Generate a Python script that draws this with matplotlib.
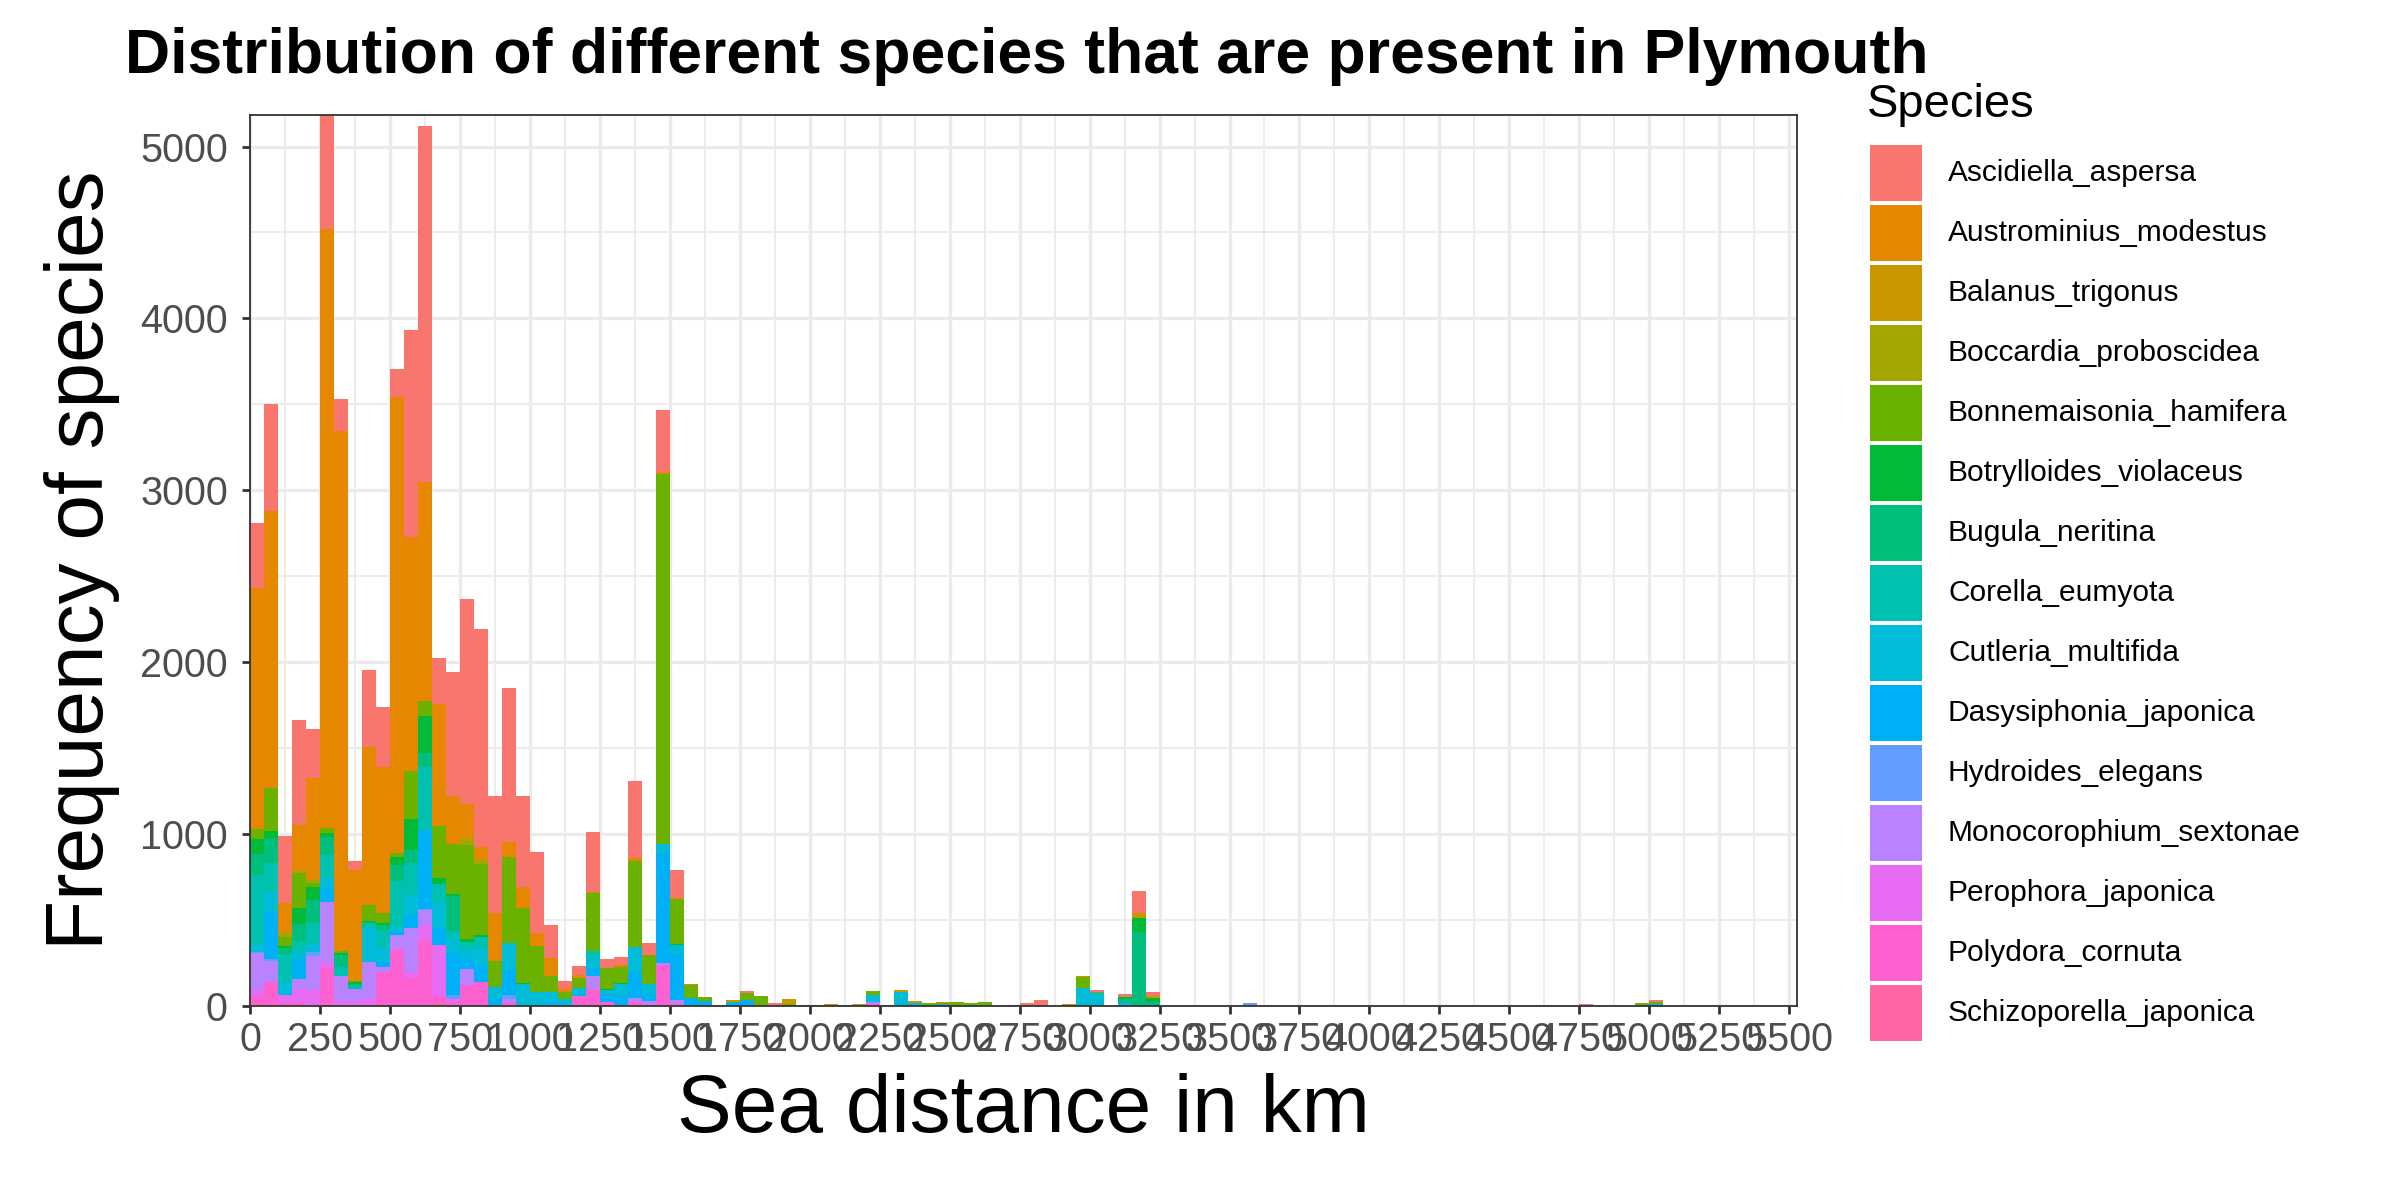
import numpy as np
import matplotlib
matplotlib.use("Agg")
import matplotlib.pyplot as plt
from matplotlib.patches import Rectangle

plt.rcParams['font.family'] = ['Liberation Sans', 'DejaVu Sans']

species = [
    "Ascidiella_aspersa", "Austrominius_modestus", "Balanus_trigonus",
    "Boccardia_proboscidea", "Bonnemaisonia_hamifera", "Botrylloides_violaceus",
    "Bugula_neritina", "Corella_eumyota", "Cutleria_multifida",
    "Dasysiphonia_japonica", "Hydroides_elegans", "Monocorophium_sextonae",
    "Perophora_japonica", "Polydora_cornuta", "Schizoporella_japonica",
]
colors = ["#F8766D", "#E58700", "#C99800", "#A3A500", "#6BB100", "#00BA38",
          "#00BF7D", "#00C0AF", "#00BCD8", "#00B0F6", "#619CFF", "#B983FF",
          "#E76BF3", "#FD61D1", "#FF67A4"]

# left edges of the 50 km histogram bins that hold data
bin_starts = list(range(0, 3250, 50)) + [3550, 4750, 4950, 5000]
binwidth = 50

# counts per species (same order as bin_starts): bins 0..3200 then 3550, 4750, 4950, 5000
Ascidiella_aspersa = [380, 623, 390, 613, 286, 666, 185, 53, 449, 346, 164, 1203, 2072, 264, 726, 1193,
                      1267, 684, 898, 533, 469, 192, 52, 50, 346, 51, 48, 450, 72, 360, 162, 0,
                      0, 0, 0, 12, 0, 8, 0, 0, 0, 0, 0, 0, 0, 0, 0, 0,
                      0, 0, 0, 0, 0, 0, 0, 12, 25, 0, 0, 0, 10, 0, 14, 128, 23,
                      0, 8, 0, 12]
Austrominius_modestus = [1400, 1614, 180, 270, 592, 3484, 3026, 641, 921, 853, 2656, 1362, 1274, 712, 275, 203,
                         80, 279, 88, 118, 76, 105, 12, 18, 0, 0, 10, 19, 0, 15, 6, 6,
                         0, 0, 0, 0, 0, 0, 0, 0, 0, 0, 0, 0, 0, 0, 0, 0,
                         0, 6, 0, 0, 0, 0, 0, 4, 0, 0, 0, 0, 0, 0, 0, 0, 0,
                         0, 0, 0, 0]
Balanus_trigonus = [0, 0, 0, 0, 0, 0, 0, 0, 0, 0, 0, 0, 0, 0, 0, 0,
                    0, 0, 0, 0, 0, 0, 0, 0, 8, 0, 0, 0, 0, 0, 0, 0,
                    0, 0, 8, 0, 0, 0, 30, 0, 0, 12, 0, 8, 0, 0, 12, 10,
                    0, 0, 0, 0, 0, 0, 0, 0, 6, 0, 8, 8, 0, 0, 0, 29, 12,
                    0, 0, 0, 0]
Boccardia_proboscidea = [0, 0, 20, 10, 20, 0, 0, 0, 0, 0, 0, 0, 0, 0, 0, 36,
                         19, 0, 0, 0, 0, 0, 0, 0, 0, 0, 0, 0, 0, 0, 0, 0,
                         0, 0, 0, 0, 0, 0, 0, 0, 0, 0, 0, 0, 0, 0, 0, 0,
                         0, 0, 0, 0, 0, 0, 0, 0, 0, 0, 0, 0, 0, 0, 0, 0, 0,
                         0, 0, 0, 0]
Bonnemaisonia_hamifera = [60, 250, 55, 205, 20, 29, 10, 8, 90, 59, 20, 283, 86, 303, 293, 550,
                          415, 151, 498, 437, 266, 94, 43, 58, 340, 125, 92, 498, 166, 2150, 262, 74,
                          20, 3, 0, 41, 55, 0, 7, 5, 5, 0, 3, 0, 20, 5, 0, 0,
                          10, 6, 20, 8, 20, 0, 0, 0, 0, 0, 0, 64, 7, 0, 0, 0, 0,
                          0, 0, 10, 8]
Botrylloides_violaceus = [90, 43, 10, 93, 74, 24, 10, 10, 10, 10, 49, 176, 219, 35, 14, 15,
                          15, 0, 0, 6, 0, 0, 0, 0, 0, 6, 6, 0, 0, 0, 6, 0,
                          0, 0, 0, 0, 0, 0, 0, 0, 0, 0, 0, 0, 0, 0, 0, 0,
                          0, 0, 0, 0, 0, 0, 0, 0, 0, 0, 0, 0, 0, 0, 12, 82, 20,
                          0, 0, 0, 0]
Bugula_neritina = [120, 143, 35, 96, 137, 107, 72, 15, 10, 29, 91, 78, 79, 0, 199, 0,
                   0, 0, 0, 0, 0, 0, 0, 0, 0, 0, 0, 0, 0, 0, 0, 0,
                   0, 0, 0, 0, 0, 0, 0, 0, 0, 0, 0, 0, 0, 0, 0, 0,
                   0, 0, 0, 0, 0, 0, 0, 0, 0, 0, 0, 0, 0, 0, 27, 427, 23,
                   0, 0, 0, 0]
Corella_eumyota = [405, 166, 165, 64, 120, 133, 53, 15, 25, 97, 268, 185, 366, 105, 45, 49,
                   62, 0, 0, 0, 0, 0, 0, 0, 39, 0, 0, 0, 0, 0, 0, 0,
                   0, 0, 0, 0, 0, 0, 0, 0, 0, 0, 0, 0, 0, 0, 0, 0,
                   0, 0, 0, 0, 0, 0, 0, 0, 0, 0, 0, 0, 0, 0, 0, 0, 0,
                   0, 0, 0, 0]
Cutleria_multifida = [45, 117, 65, 43, 50, 62, 0, 0, 195, 88, 29, 118, 10, 153, 84, 49,
                      100, 68, 156, 127, 82, 62, 39, 35, 58, 29, 72, 150, 65, 60, 48, 0,
                      0, 0, 8, 0, 0, 0, 0, 0, 0, 0, 0, 4, 45, 0, 74, 15,
                      4, 8, 0, 6, 0, 0, 3, 0, 0, 0, 0, 101, 74, 0, 8, 0, 0,
                      0, 4, 4, 11]
Dasysiphonia_japonica = [0, 274, 10, 113, 0, 75, 0, 0, 0, 29, 20, 78, 450, 97, 248, 62,
                         98, 39, 150, 0, 0, 16, 0, 13, 47, 39, 49, 148, 33, 635, 268, 45,
                         29, 0, 15, 25, 0, 0, 0, 0, 0, 0, 0, 0, 0, 0, 4, 0,
                         0, 0, 0, 0, 0, 0, 0, 0, 0, 0, 0, 0, 0, 0, 0, 0, 0,
                         0, 0, 0, 0]
Hydroides_elegans = [5, 15, 0, 0, 20, 0, 0, 0, 0, 0, 0, 0, 10, 0, 20, 0,
                     0, 0, 20, 0, 0, 0, 0, 0, 0, 0, 0, 0, 0, 0, 0, 0,
                     0, 0, 0, 0, 0, 0, 0, 0, 0, 0, 0, 0, 0, 0, 0, 0,
                     0, 0, 0, 0, 0, 0, 0, 0, 0, 0, 0, 0, 0, 0, 0, 0, 0,
                     14, 0, 0, 0]
Monocorophium_sextonae = [215, 121, 0, 62, 200, 351, 143, 69, 215, 30, 78, 254, 85, 0, 0, 90,
                          0, 0, 16, 0, 0, 0, 0, 0, 78, 0, 0, 20, 29, 14, 25, 0,
                          0, 0, 0, 0, 0, 0, 0, 0, 0, 0, 0, 0, 12, 0, 0, 0,
                          0, 0, 0, 0, 0, 0, 0, 0, 0, 0, 0, 0, 0, 0, 5, 0, 0,
                          0, 0, 0, 0]
Perophora_japonica = [40, 0, 45, 80, 90, 35, 29, 29, 39, 0, 0, 35, 94, 299, 20, 0,
                      0, 0, 0, 0, 0, 0, 0, 0, 0, 0, 0, 0, 0, 0, 0, 0,
                      0, 0, 0, 0, 0, 0, 0, 0, 0, 0, 0, 0, 0, 0, 0, 0,
                      0, 0, 0, 0, 0, 0, 0, 0, 0, 0, 0, 0, 0, 0, 0, 0, 0,
                      0, 0, 0, 0]
Polydora_cornuta = [40, 137, 10, 10, 0, 219, 0, 0, 0, 195, 332, 160, 375, 38, 20, 121,
                    137, 0, 23, 0, 0, 0, 0, 55, 94, 20, 6, 23, 0, 234, 10, 0,
                    0, 0, 0, 6, 0, 6, 0, 0, 0, 0, 0, 0, 7, 0, 0, 0,
                    0, 0, 0, 0, 0, 0, 0, 0, 0, 0, 0, 0, 0, 0, 0, 0, 0,
                    0, 0, 0, 0]
Schizoporella_japonica = [10, 0, 5, 5, 0, 0, 0, 0, 0, 0, 0, 0, 0, 15, 0, 0,
                          0, 0, 0, 0, 0, 0, 0, 0, 0, 0, 0, 0, 0, 0, 0, 0,
                          0, 0, 0, 0, 0, 0, 0, 0, 0, 0, 0, 0, 0, 0, 0, 0,
                          0, 0, 0, 0, 0, 0, 0, 0, 0, 0, 0, 0, 0, 0, 0, 0, 0,
                          0, 0, 0, 0]

counts = [Ascidiella_aspersa, Austrominius_modestus, Balanus_trigonus, Boccardia_proboscidea,
          Bonnemaisonia_hamifera, Botrylloides_violaceus, Bugula_neritina, Corella_eumyota,
          Cutleria_multifida, Dasysiphonia_japonica, Hydroides_elegans, Monocorophium_sextonae,
          Perophora_japonica, Polydora_cornuta, Schizoporella_japonica]

x_ticks = list(range(0, 5501, 250))
y_ticks = [0, 1000, 2000, 3000, 4000, 5000]
x_max = 5526

fig = plt.figure(figsize=(24, 12), dpi=100)
ax = fig.add_axes([250 / 2400, 1 - 1005.6 / 1200, (1796.5 - 250) / 2400, (1005.6 - 114.8) / 1200])

x = np.array(bin_starts, dtype=float)
bottom = np.zeros(len(x))
for name, col, vals in reversed(list(zip(species, colors, counts))):
    v = np.array(vals, dtype=float)
    ax.bar(x, v, width=binwidth, bottom=bottom, align='edge', color=col,
           linewidth=0, zorder=2)
    bottom += v

ax.set_xlim(0, x_max)
ax.set_ylim(0, bottom.max())

ax.set_xticks(x_ticks)
ax.set_xticks([t + 125 for t in x_ticks if t + 125 < x_max], minor=True)
ax.set_yticks(y_ticks)
ax.set_yticks([t + 500 for t in y_ticks if t + 500 < bottom.max()], minor=True)
ax.set_xticklabels([str(t) for t in x_ticks])
ax.set_yticklabels([str(t) for t in y_ticks])

ax.grid(which='major', color='#EBEBEB', linewidth=2.4, zorder=0)
ax.grid(which='minor', color='#EBEBEB', linewidth=1.3, zorder=0)
ax.set_axisbelow(True)

ax.tick_params(which='major', length=6, width=2.0, color='#333333',
               labelsize=28.5, labelcolor='#4D4D4D')
ax.tick_params(axis='x', pad=5)
ax.tick_params(axis='y', pad=10)
ax.tick_params(which='minor', length=0)
for s in ax.spines.values():
    s.set_color('#333333')
    s.set_linewidth(1.3)
    s.set_zorder(5)

fig.text(125 / 2400, 1 - 57 / 1200,
         "Distribution of different species that are present in Plymouth",
         fontsize=45, fontweight='bold', ha='left', va='center')
fig.text(82 / 2400, 1 - 560 / 1200, "Frequency of species", fontsize=59,
         rotation=90, ha='center', va='center')
fig.text(1023 / 2400, 1 - 1111 / 1200, "Sea distance in km", fontsize=59,
         ha='center', va='center')

# legend
fig.text(1867 / 2400, 1 - 105 / 1200, "Species", fontsize=34, ha='left', va='center')
for i, (name, col) in enumerate(zip(species, colors)):
    yc = 173 + 60 * i
    fig.patches.append(Rectangle((1870 / 2400, 1 - (yc + 28) / 1200), 52 / 2400, 56 / 1200,
                                 transform=fig.transFigure, facecolor=col, edgecolor='none'))
    fig.text(1948 / 2400, 1 - yc / 1200, name, fontsize=21.5, ha='left', va='center')

fig.savefig("out.png", dpi=100)
